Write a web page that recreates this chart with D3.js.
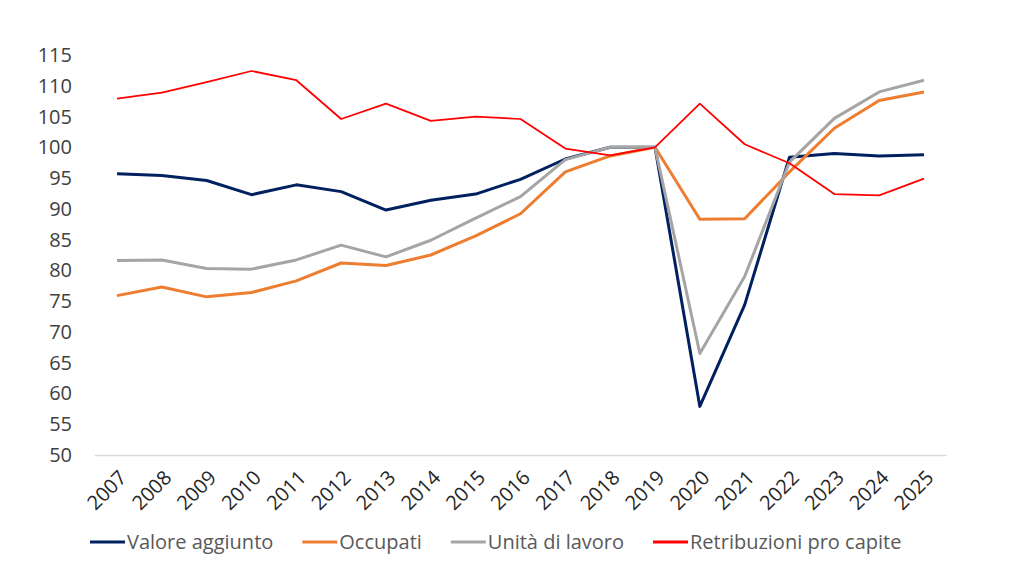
<!DOCTYPE html>
<html>
<head>
<meta charset="utf-8">
<script src="https://cdn.jsdelivr.net/npm/d3@7"></script>
<style>
  html, body { margin: 0; padding: 0; background: #fff; }
  svg { display: block; font-family: "Open Sans", sans-serif; }
</style>
</head>
<body>
<div id="chart"></div>
<script>
// ===== DATA =====
const years = ["2007","2008","2009","2010","2011","2012","2013","2014","2015","2016",
               "2017","2018","2019","2020","2021","2022","2023","2024","2025"];

const valoreAggiunto = [95.7, 95.4, 94.6, 92.3, 93.9, 92.8, 89.8, 91.4, 92.4, 94.8,
                        98.1, 100.0, 100.0, 57.9, 74.4, 98.4, 99.0, 98.6, 98.8];
const occupati       = [75.9, 77.3, 75.7, 76.4, 78.3, 81.2, 80.8, 82.5, 85.6, 89.2,
                        96.0, 98.6, 100.0, 88.3, 88.4, 96.0, 103.1, 107.6, 109.0];
const unitaLavoro    = [81.6, 81.7, 80.3, 80.2, 81.7, 84.1, 82.2, 84.9, 88.5, 92.0,
                        98.0, 100.0, 100.0, 66.5, 79.0, 97.6, 104.7, 109.0, 110.9];
const retribuzioni   = [107.9, 108.9, 110.6, 112.4, 110.9, 104.6, 107.1, 104.3, 105.0, 104.6,
                        99.8, 98.7, 100.0, 107.1, 100.5, 97.4, 92.4, 92.2, 94.9];

const yTicks = [50, 55, 60, 65, 70, 75, 80, 85, 90, 95, 100, 105, 110, 115];

const series = [
  { name: "Valore aggiunto",          values: valoreAggiunto, color: "#002060", width: 3 },
  { name: "Occupati",                 values: occupati,       color: "#ED7D31", width: 3 },
  { name: "Unità di lavoro",          values: unitaLavoro,    color: "#A5A5A5", width: 3 },
  { name: "Retribuzioni pro capite",  values: retribuzioni,   color: "#FF0000", width: 1.75 }
];

// ===== LAYOUT =====
const width = 1028, height = 578;

const x = d3.scalePoint().domain(years).range([117, 924]);
const y = d3.scaleLinear().domain([50, 115]).range([455, 55]);

const svg = d3.select("#chart").append("svg")
  .attr("width", width)
  .attr("height", height);

// Y labels (no axis line, no gridlines)
svg.append("g")
  .selectAll("text")
  .data(yTicks)
  .enter()
  .append("text")
  .attr("x", 72)
  .attr("y", d => y(d))
  .attr("dy", "0.35em")
  .attr("text-anchor", "end")
  .attr("fill", "#404040")
  .style("font-size", "20px")
  .text(d => d);

// X axis baseline
const step = x.step();
svg.append("line")
  .attr("x1", x(years[0]) - step / 2)
  .attr("x2", x(years[years.length - 1]) + step / 2)
  .attr("y1", y(50) + 0.5)
  .attr("y2", y(50) + 0.5)
  .attr("stroke", "#D9D9D9")
  .attr("stroke-width", 1.5);

// X labels, rotated
svg.append("g")
  .selectAll("text")
  .data(years)
  .enter()
  .append("text")
  .attr("transform", d => `translate(${x(d) + 6},${y(50) + 19}) rotate(-45)`)
  .attr("text-anchor", "end")
  .attr("dy", "0.35em")
  .attr("fill", "#262626")
  .style("font-size", "20px")
  .text(d => d);

// Lines
const line = d3.line()
  .x((d, i) => x(years[i]))
  .y(d => y(d));

svg.append("g")
  .selectAll("path")
  .data(series)
  .enter()
  .append("path")
  .attr("d", d => line(d.values))
  .attr("fill", "none")
  .attr("stroke", d => d.color)
  .attr("stroke-width", d => d.width)
  .attr("stroke-linejoin", "round");

// ===== LEGEND =====
const legend = svg.append("g").attr("transform", "translate(90,542)");
let lx = 0;
series.forEach(s => {
  const item = legend.append("g").attr("transform", `translate(${lx},0)`);
  item.append("line")
    .attr("x1", 0).attr("x2", 35)
    .attr("y1", 0).attr("y2", 0)
    .attr("stroke", s.color)
    .attr("stroke-width", 3);
  const t = item.append("text")
    .attr("x", 37)
    .attr("dy", "0.35em")
    .attr("fill", "#595959")
    .style("font-size", "20px")
    .text(s.name);
  lx += 37 + t.node().getComputedTextLength() + 29;
});
</script>
</body>
</html>
